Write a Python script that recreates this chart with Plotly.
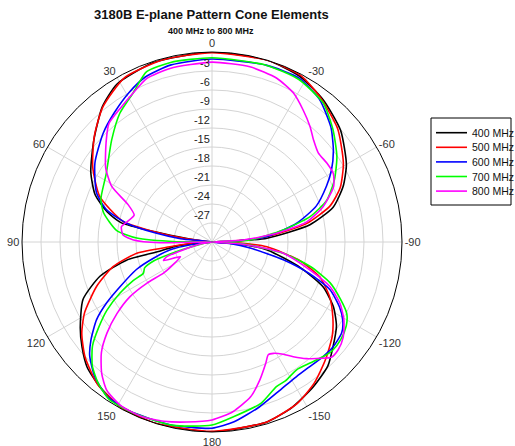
import plotly.graph_objects as go

# ---- data (angle in degrees, level in dB) ----
theta_400 = [0, 18, 31, 39, 49, 60, 68, 74, 78, 80, 82, 85, 90, 95, 97, 100, 102, 107, 114, 123, 129, 135, 142, 151, 162, 180,
             -163, -154, -145, -137, -131, -124, -118, -112, -106, -98, -94, -90, -88, -86, -80, -74, -67, -60, -49, -38, -28, -17, 0]
db_400 = [0, -0.2, -0.9, -2.5, -5.3, -7.9, -10.1, -12.8, -15.3, -21, -26, -29, -30, -27, -24, -21.6, -16.2, -11.5, -7.7, -5.2, -3.6, -2.1, -1.1, -0.2, 0, 0,
          -0.3, -1.0, -2.1, -3.2, -4.7, -6.3, -8.3, -11.1, -15.6, -21.3, -26, -30, -27, -21.3, -14.3, -10.1, -7.5, -5.5, -3.1, -1.5, -0.4, 0, 0]

theta_500 = [0, 15, 28, 39, 48, 58, 68, 77, 80.5, 83, 90, 93, 96.5, 98.5, 104, 111, 119, 125, 132, 141, 151, 162, 180,
             -163, -152, -144, -136, -128, -122, -115, -108, -102, -95, -92, -90, -88, -84.5, -79, -73, -67, -59, -48, -37, -28, -17, 0]
db_500 = [-0.1, -0.2, -0.6, -2.6, -5.0, -7.8, -10.9, -15.6, -21.7, -26, -30, -27, -23.3, -18.0, -13.9, -10.5, -7.0, -4.9, -3.0, -1.2, -0.2, 0, -0.1,
          -0.3, -1.2, -2.5, -4.2, -5.9, -7.5, -9.5, -12.1, -15.8, -21.3, -26, -30, -27, -21.3, -14.8, -10.5, -8.0, -5.8, -3.3, -1.5, -0.2, 0, -0.1]

theta_600 = [0, 13, 22, 29, 37, 45, 56, 67, 73, 77.6, 81, 84, 90, 97, 100.8, 105.5, 110, 116, 120, 124, 129, 133, 139, 146, 154, 167, 180,
             -173, -164, -155, -148, -142, -136, -131, -125, -121, -117, -112, -108, -104, -99, -95, -90, -88, -84.5, -77.5, -71, -64, -59, -53, -46, -37, -28, -17, 0]
db_600 = [-1.1, -1.3, -1.9, -3.0, -4.4, -5.7, -7.7, -10.2, -12.6, -16.2, -21, -25, -30, -27, -23.2, -20.4, -17.3, -13.8, -10.8, -8.0, -5.4, -3.6, -1.8, -0.5, -0.3, -0.4, -0.6,
          -1.4, -2.9, -4.3, -4.9, -5.0, -4.8, -4.7, -5.0, -5.9, -7.4, -9.9, -13.8, -18.4, -23.9, -27, -30, -27, -21.3, -16.3, -12.6, -9.9, -8.0, -6.0, -3.9, -1.8, -0.7, -0.8, -1.1]

theta_700 = [0, 13, 21, 28, 35.6, 44.5, 57, 69, 75, 83, 87, 89.5, 90, 100, 104, 106, 108, 111, 114.5, 116, 119, 123, 127, 131, 136, 141, 147, 156, 168, 180,
             -173, -163, -156, -152, -146.5, -141, -136, -132, -127, -122, -118, -114, -109, -104, -99, -94.5, -92, -90, -87, -80.4, -75.5, -70, -63, -55.6, -47, -38.7, -28, -17, 0]
db_700 = [-0.9, -0.9, -1.2, -3.4, -5.0, -7.4, -10.1, -11.2, -12.3, -14.8, -18.1, -24.4, -30, -28.5, -25.9, -23.1, -20.3, -18.6, -18.1, -16.2, -13.4, -10.2, -7.6, -5.0, -2.8, -1.4, -0.3, -0.3, -0.4, -1.1,
          -2.2, -3.4, -5.0, -5.2, -5.8, -5.4, -4.8, -4.4, -4.5, -5.0, -5.9, -7.8, -10.3, -14.0, -18.6, -24, -27, -30, -24, -18.6, -14.0, -10.7, -8.3, -6.1, -3.9, -1.9, -0.9, -0.8, -0.9]

theta_800 = [0, 13.6, 21.7, 28, 34.5, 41, 46, 55, 61, 66, 71, 76.6, 80.4, 85.5, 88.5, 90.8, 91, 100, 108, 111, 115, 120, 122.7, 122.3, 123.7, 127, 131, 135, 140, 144.6, 151, 158, 165, 172, 180,
             -173, -166, -161, -156, -153.5, -151, -147.6, -144.7, -141, -137, -134, -130.5, -126, -120.6, -115.6, -110.7, -106, -99, -94, -90,
             -86.3, -82.3, -78, -72.4, -65.5, -60.5, -55.5, -50, -45, -40.4, -34.7, -28.7, -21.6, -12.2, 0]
db_800 = [-1.6, -1.8, -2.2, -3.4, -4.4, -5.2, -6.8, -9.5, -11.9, -15.5, -17.0, -16.2, -15.5, -15.9, -17.6, -21.8, -30, -28, -22.5, -21.8, -24.5, -23, -20.9, -17.8, -14.4, -11.2, -8.0, -5.3, -2.9, -1.3, -0.4, -0.3, -0.7, -1.3, -1.9,
          -3.0, -4.8, -6.9, -9.1, -10.1, -9.9, -9.0, -7.8, -6.3, -4.9, -3.8, -3.8, -4.4, -5.8, -7.6, -10.1, -13.9, -18.6, -25, -30,
          -25, -19.7, -14.7, -11.6, -8.9, -8.0, -8.0, -8.1, -7.3, -6.1, -4.7, -3.2, -2.2, -1.7, -1.6]

series_names = ["400 MHz", "500 MHz", "600 MHz", "700 MHz", "800 MHz"]
series_colors = ["#000000", "#ff0000", "#0000ff", "#00ff00", "#ff00ff"]
series_theta = [theta_400, theta_500, theta_600, theta_700, theta_800]
series_db = [db_400, db_500, db_600, db_700, db_800]

angle_ticks = [0, 30, 60, 90, 120, 150, 180, 210, 240, 270, 300, 330]
angle_labels = ["0", "30", "60", "90", "120", "150", "180", "-150", "-120", "-90", "-60", "-30"]
radial_ticks = [-27, -24, -21, -18, -15, -12, -9, -6, -3]
radial_labels = [str(v) for v in radial_ticks]

title_text = "3180B E-plane Pattern Cone Elements"
subtitle_text = "400 MHz to 800 MHz"

FONT = "Arial, Liberation Sans, sans-serif"
W, H = 515, 446

fig = go.Figure()
for name, col, th, db in zip(series_names, series_colors, series_theta, series_db):
    fig.add_trace(go.Scatterpolar(
        r=db, theta=th, mode="lines", name=name, showlegend=False,
        line=dict(color=col, width=1.6, shape="spline", smoothing=0.6),
    ))

# ---- legend box (drawn as layout decoration) ----
lg_left, lg_top, lg_right, lg_bottom = 431, 118, 511, 205
row_y0, row_dy = 132.7, 14.6
shapes = [dict(type="rect", xref="paper", yref="paper",
               x0=lg_left / W, x1=lg_right / W, y0=1 - lg_bottom / H, y1=1 - lg_top / H,
               line=dict(color="black", width=1), fillcolor="white", layer="above")]
annotations = []
for i, (name, col) in enumerate(zip(series_names, series_colors)):
    yy = 1 - (row_y0 + i * row_dy) / H
    shapes.append(dict(type="line", xref="paper", yref="paper",
                       x0=436 / W, x1=467 / W, y0=yy, y1=yy,
                       line=dict(color=col, width=1.6), layer="above"))
    annotations.append(dict(text=name, x=470 / W, y=yy, xref="paper", yref="paper",
                            xanchor="left", yanchor="middle", showarrow=False,
                            font=dict(family=FONT, size=10.5, color="#111")))

annotations += [
    dict(text="<b>" + title_text + "</b>", x=211 / W, y=1 - 15 / H, xref="paper", yref="paper",
         xanchor="center", yanchor="middle", showarrow=False,
         font=dict(family=FONT, size=13, color="#111")),
    dict(text="<b>" + subtitle_text + "</b>", x=211 / W, y=1 - 30.5 / H, xref="paper", yref="paper",
         xanchor="center", yanchor="middle", showarrow=False,
         font=dict(family=FONT, size=9, color="#111")),
]

cx, cy, rad = 212, 242, 190
fig.update_layout(
    width=W, height=H,
    margin=dict(l=0, r=0, t=0, b=0),
    paper_bgcolor="white",
    font=dict(family=FONT, size=11, color="#222"),
    showlegend=False,
    polar=dict(
        domain=dict(x=[(cx - rad) / W, (cx + rad) / W], y=[1 - (cy + rad) / H, 1 - (cy - rad) / H]),
        bgcolor="white",
        angularaxis=dict(rotation=90, direction="counterclockwise",
                         tickmode="array", tickvals=angle_ticks, ticktext=angle_labels,
                         showline=True, linecolor="black", linewidth=1,
                         gridcolor="#d4d4d4", gridwidth=1, ticks="",
                         tickfont=dict(family=FONT, size=11, color="#333")),
        radialaxis=dict(range=[-30, 0], tickmode="array", tickvals=radial_ticks,
                        ticktext=[t + "<br> " for t in radial_labels],
                        angle=90, tickangle=90, side="counterclockwise", showline=False, ticks="",
                        gridcolor="#d4d4d4", gridwidth=1,
                        tickfont=dict(family=FONT, size=11, color="#222")),
    ),
    shapes=shapes,
    annotations=annotations,
)

fig.write_html("out.html", config={"displayModeBar": False},
               post_script="document.body.style.margin='0';document.body.style.padding='0';")
